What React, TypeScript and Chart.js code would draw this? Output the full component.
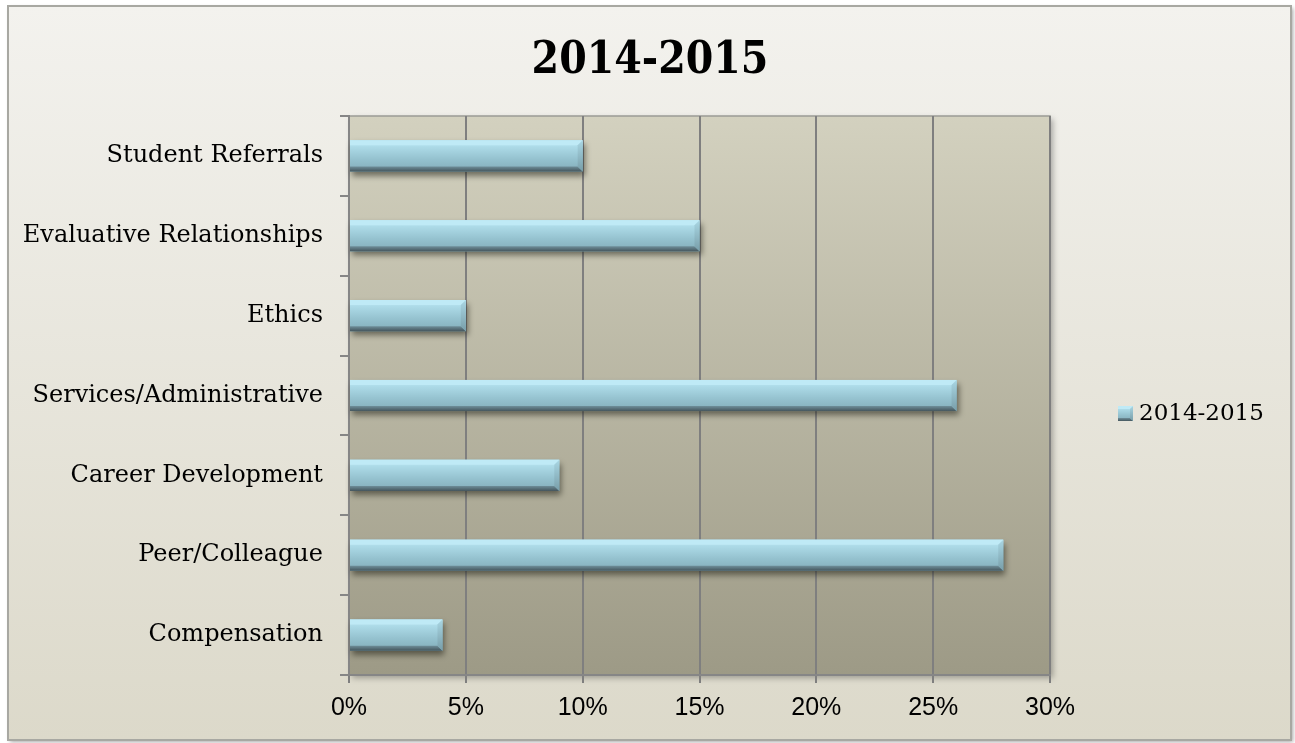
import React, { useEffect, useRef } from 'react';
import { Chart, registerables } from 'chart.js';

Chart.register(...registerables);

const chartTitle = '2014-2015';
const seriesName = '2014-2015';
const categories = [
  'Student Referrals',
  'Evaluative Relationships',
  'Ethics',
  'Services/Administrative',
  'Career Development',
  'Peer/Colleague',
  'Compensation',
];
const values = [0.10, 0.15, 0.05, 0.26, 0.09, 0.28, 0.04];
const xMin = 0;
const xMax = 0.30;
const xStep = 0.05;

function bevelRect(ctx: CanvasRenderingContext2D, x0: number, yT: number, x1: number, yB: number, bev: number, shadow: boolean) {
  const h = yB - yT;
  ctx.save();
  if (shadow) {
    ctx.shadowColor = 'rgba(30,30,20,0.55)';
    ctx.shadowBlur = 6;
    ctx.shadowOffsetX = 2;
    ctx.shadowOffsetY = 4;
  }
  const g = ctx.createLinearGradient(0, yT, 0, yB);
  g.addColorStop(0, '#c4eefa');
  g.addColorStop(0.2, '#addbe8');
  g.addColorStop(0.6, '#95c2cf');
  g.addColorStop(1, '#83adb9');
  ctx.fillStyle = g;
  ctx.fillRect(x0, yT, x1 - x0, h);
  ctx.restore();
  ctx.save();
  // top bevel
  ctx.fillStyle = '#bfeaf6';
  ctx.beginPath();
  ctx.moveTo(x0, yT); ctx.lineTo(x1, yT); ctx.lineTo(x1 - bev, yT + bev); ctx.lineTo(x0, yT + bev); ctx.closePath();
  ctx.fill();
  // bottom bevel
  const bg = ctx.createLinearGradient(0, yB - bev, 0, yB);
  bg.addColorStop(0, '#6e8e99');
  bg.addColorStop(1, '#45565d');
  ctx.fillStyle = bg;
  ctx.beginPath();
  ctx.moveTo(x0, yB); ctx.lineTo(x1, yB); ctx.lineTo(x1 - bev, yB - bev); ctx.lineTo(x0, yB - bev); ctx.closePath();
  ctx.fill();
  // right bevel
  const rg = ctx.createLinearGradient(0, yT, 0, yB);
  rg.addColorStop(0, '#a9d6e3');
  rg.addColorStop(1, '#789ea9');
  ctx.fillStyle = rg;
  ctx.beginPath();
  ctx.moveTo(x1, yT); ctx.lineTo(x1, yB); ctx.lineTo(x1 - bev, yB - bev); ctx.lineTo(x1 - bev, yT + bev); ctx.closePath();
  ctx.fill();
  ctx.restore();
}

const decor = {
  id: 'decor',
  beforeDraw(chart: any) {
    const { ctx, chartArea: a, width, height } = chart;
    ctx.save();
    ctx.fillStyle = '#ffffff';
    ctx.fillRect(0, 0, width, height);
    const bx = 8, by = 6, bw = 1283, bh = 734;
    ctx.shadowColor = 'rgba(0,0,0,0.35)';
    ctx.shadowBlur = 4;
    ctx.shadowOffsetX = 2;
    ctx.shadowOffsetY = 2;
    const g = ctx.createLinearGradient(0, by, 0, by + bh);
    g.addColorStop(0, '#f3f2ee');
    g.addColorStop(1, '#dcd9ca');
    ctx.fillStyle = g;
    ctx.fillRect(bx, by, bw, bh);
    ctx.shadowColor = 'transparent';
    ctx.strokeStyle = '#a8a8a2';
    ctx.lineWidth = 2;
    ctx.strokeRect(bx, by, bw, bh);
    ctx.shadowColor = 'rgba(0,0,0,0.3)';
    ctx.shadowBlur = 6;
    ctx.shadowOffsetX = 3;
    ctx.shadowOffsetY = 3;
    const pg = ctx.createLinearGradient(0, a.top, 0, a.bottom);
    pg.addColorStop(0, '#d3d1bf');
    pg.addColorStop(1, '#9d9a86');
    ctx.fillStyle = pg;
    ctx.fillRect(a.left, a.top, a.right - a.left, a.bottom - a.top);
    ctx.shadowColor = 'transparent';
    ctx.strokeStyle = '#9c9c96';
    ctx.lineWidth = 1.5;
    ctx.beginPath();
    ctx.moveTo(a.left, a.top);
    ctx.lineTo(a.right, a.top);
    ctx.lineTo(a.right, a.bottom);
    ctx.stroke();
    ctx.restore();
  },
  afterDatasetsDraw(chart: any) {
    const { ctx } = chart;
    const meta = chart.getDatasetMeta(0);
    meta.data.forEach((el: any) => {
      const p = el.getProps(['x', 'y', 'base', 'height'], true);
      const x0 = Math.min(p.base, p.x);
      const x1 = Math.max(p.base, p.x);
      bevelRect(ctx, x0, p.y - p.height / 2, x1, p.y + p.height / 2, 5, true);
    });
  },
  afterDraw(chart: any) {
    const { ctx, chartArea: a } = chart;
    ctx.save();
    ctx.fillStyle = '#000000';
    ctx.textAlign = 'center';
    ctx.textBaseline = 'alphabetic';
    ctx.font = 'bold 44px "DejaVu Serif Condensed", "DejaVu Serif", serif';
    ctx.fillText(chartTitle, 650, 73);
    // legend
    const ly = (a.top + a.bottom) / 2 + 18;
    bevelRect(ctx, 1118, ly - 7.5, 1133, ly + 7.5, 3, false);
    ctx.textAlign = 'left';
    ctx.textBaseline = 'middle';
    ctx.font = '23px "DejaVu Serif", serif';
    ctx.fillText(seriesName, 1139, ly + 1);
    ctx.restore();
  },
};

export default function App() {
  const ref = useRef<HTMLCanvasElement>(null);
  useEffect(() => {
    if (!ref.current) return;
    const chart = new Chart(ref.current, {
      type: 'bar',
      data: {
        labels: categories,
        datasets: [
          {
            label: seriesName,
            data: values,
            backgroundColor: '#96c3d0',
            borderWidth: 0,
            categoryPercentage: 1,
            barPercentage: 0.39,
          },
        ],
      },
      options: {
        indexAxis: 'y',
        responsive: false,
        animation: false,
        layout: { padding: { top: 116, right: 245, bottom: 0, left: 0 } },
        plugins: {
          legend: { display: false },
          title: { display: false },
          tooltip: { enabled: false },
        },
        scales: {
          x: {
            min: xMin,
            max: xMax,
            ticks: {
              stepSize: xStep,
              color: '#000000',
              padding: 10,
              font: { family: '"Liberation Sans", Arial, sans-serif', size: 25 },
              callback: (v: any) => Math.round(Number(v) * 100) + '%',
            },
            grid: { color: '#7f7f7f', lineWidth: 2, tickLength: 8, drawTicks: true },
            border: { color: '#868686', width: 2 },
            afterFit: (s: any) => { s.height = 68; },
          },
          y: {
            ticks: {
              color: '#000000',
              padding: 17,
              font: { family: '"DejaVu Serif", serif', size: 24 },
            },
            grid: { drawOnChartArea: false, color: '#868686', lineWidth: 2, tickLength: 9, offset: true },
            border: { color: '#868686', width: 2 },
            afterFit: (s: any) => { s.width = 349; },
          },
        },
      },
      plugins: [decor],
    });
    return () => chart.destroy();
  }, []);
  return (
    <div style={{ position: 'fixed', left: 0, top: 0, width: 1295, height: 743 }}>
      <canvas ref={ref} width={1295} height={743} style={{ width: 1295, height: 743, display: 'block' }} />
    </div>
  );
}
